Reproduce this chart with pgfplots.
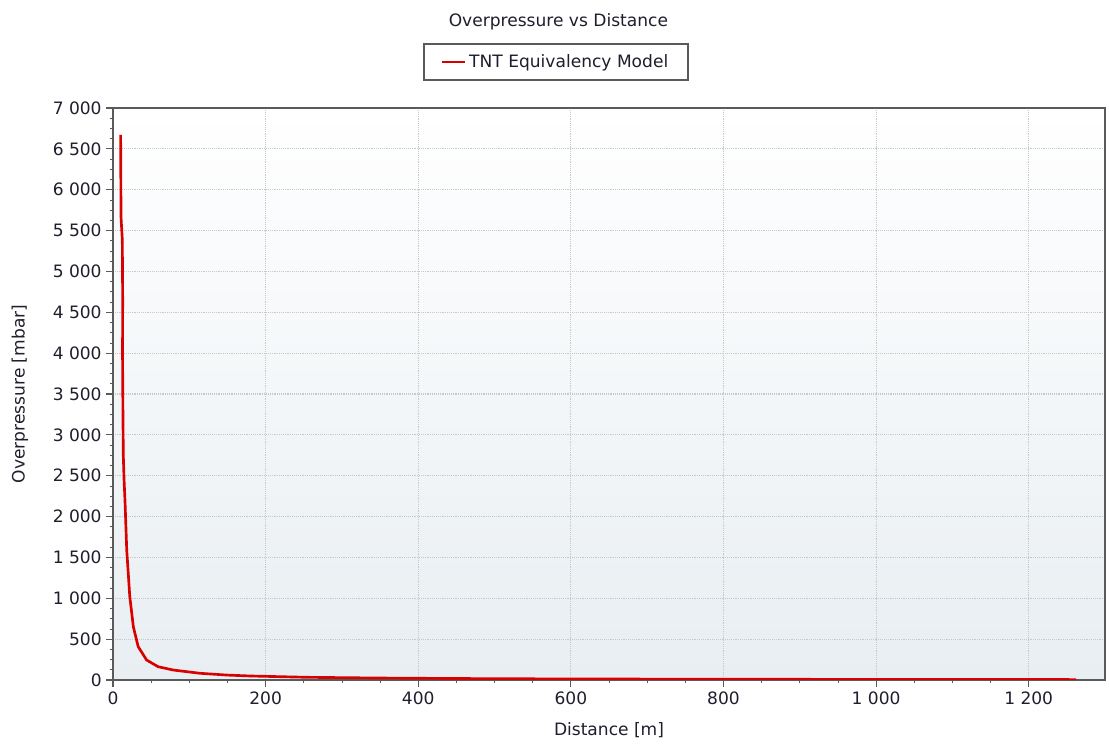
\documentclass[border=0pt]{standalone}
\usepackage{pgfplots}
\pgfplotsset{compat=1.18}
\usepackage{fontspec}
\setmainfont{DejaVu Sans}
\definecolor{bgbot}{RGB}{232,238,242}
\definecolor{axgray}{RGB}{90,90,90}
\definecolor{gridgray}{RGB}{200,200,200}
\definecolor{txt}{RGB}{30,30,45}
\newcommand{\cf}{\fontsize{12.8}{15}\selectfont}
\begin{document}
\begin{tikzpicture}
\begin{axis}[
  at={(0,0)}, anchor=south west,
  scale only axis, width=744pt, height=429pt,
  xmin=0, xmax=1300, ymin=0, ymax=7000,
  xtick={0,200,...,1200}, ytick={0,500,...,7000},
  minor x tick num=3, minor y tick num=3,
  tick align=outside, xtick pos=bottom, ytick pos=left,
  major tick length=5pt, minor tick length=2.5pt,
  tick style={axgray, line width=0.8pt},
  minor tick style={axgray, line width=0.6pt},
  axis line style={axgray, line width=1.8pt},
  grid=major, grid style={densely dotted, gridgray, line width=0.8pt},
  axis background/.style={shade, top color=white, bottom color=bgbot},
  scaled ticks=false,
  /pgf/number format/.cd, 1000 sep={\ }, assume math mode=true,
  /pgfplots/.cd,
  ticklabel style={font=\cf, text=txt},
  xlabel={Distance [m]}, ylabel={Overpressure [mbar]},
  label style={font=\cf, text=txt},
  xlabel style={at={(axis description cs:0.5,-0.0874)}, anchor=center},
  ylabel style={at={(axis description cs:-0.0938,0.5)}, anchor=center},
  title={Overpressure vs Distance},
  title style={at={(axis description cs:0.449,1.1363)}, anchor=center, font=\cf, text=txt},
  legend style={at={(axis description cs:0.4466,1.0804)}, anchor=center,
    draw=axgray, line width=1.2pt, font=\cf, text=txt,
    inner xsep=13pt, inner ysep=6pt},
  legend cell align=left,
]
\addplot[red!85!black, line width=2pt] coordinates {
(10,6670) (10.5,5667) (12.2,5386) (12.7,4650) (12.5,4000) (13,3300) (13.5,2750)
(14.5,2450) (15.7,2200) (18,1590) (22,1020) (26.7,650) (33,408) (44,245)
(59,163) (79,122) (114,82) (150,60) (180,49) (254,33) (350,24) (450,18)
(560,14) (700,11) (850,9) (1000,7) (1150,6) (1262,5)
};
\addlegendentry{TNT Equivalency Model}
\end{axis}
\pgfresetboundingbox
\path[use as bounding box] (-84.75pt,-48.75pt) rectangle (747pt,510pt);
\end{tikzpicture}
\end{document}
